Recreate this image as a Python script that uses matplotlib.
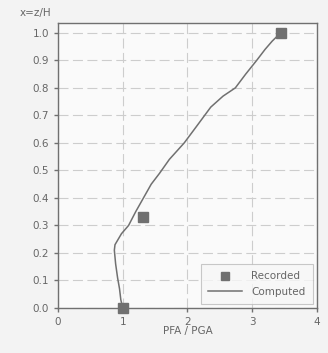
import matplotlib
matplotlib.use('Agg')
import matplotlib.pyplot as plt
import numpy as np

# recorded points (PFA/PGA, z/H)
rec_x = [1.0, 1.31, 3.44]
rec_y = [0.0, 0.33, 1.0]

# computed profile
comp_x = [1.0, 0.97, 0.95, 0.92, 0.89, 0.87, 0.88, 0.98, 1.09, 1.20, 1.32, 1.44, 1.57, 1.72, 1.95, 2.14, 2.36, 2.55, 2.74, 2.90, 3.07, 3.20, 3.31, 3.44]
comp_y = [0.0, 0.03, 0.07, 0.11, 0.16, 0.21, 0.23, 0.27, 0.30, 0.35, 0.40, 0.45, 0.49, 0.54, 0.60, 0.66, 0.73, 0.77, 0.80, 0.85, 0.90, 0.94, 0.97, 1.0]

grey = '#707070'
txt = '#666666'

fig = plt.figure(figsize=(3.28, 3.53), dpi=100, facecolor='#f3f3f3')
ax = fig.add_axes([0.177, 0.1275, 0.789, 0.8075])
ax.set_facecolor('#fafafa')

ax.plot(comp_x, comp_y, color=grey, lw=1.1, label='Computed', zorder=3)
ax.plot(rec_x, rec_y, 's', color=grey, ms=7, label='Recorded', zorder=4, clip_on=False)

ax.set_xlim(0, 4)
ax.set_ylim(0, 1.036)
ax.set_xticks([0, 1, 2, 3, 4])
ax.set_yticks(np.arange(0, 1.01, 0.1))
ax.set_yticklabels(['%.1f' % v for v in np.arange(0, 1.01, 0.1)])
ax.grid(True, ls=(0, (9, 4)), color='#cdcdcd', lw=0.8)
for s in ax.spines.values():
    s.set_color(grey)
    s.set_linewidth(1.0)
ax.tick_params(colors=grey, labelcolor=txt, labelsize=7.5, length=3, width=1)

ax.set_xlabel('PFA / PGA', fontsize=7.5, color=txt, labelpad=-1)
fig.text(0.06, 0.963, 'x=z/H', fontsize=7.5, color=txt, va='center')

h, l = ax.get_legend_handles_labels()
leg = ax.legend([h[1], h[0]], [l[1], l[0]], loc='lower right', fontsize=7.5,
                frameon=True, fancybox=False, edgecolor='#bbbbbb', facecolor='#f7f7f7',
                labelcolor=txt, handlelength=3.2, handletextpad=0.9, borderpad=0.7,
                markerscale=0.8, borderaxespad=0.4)
leg.get_frame().set_linewidth(0.8)

fig.savefig('out.png', dpi=100, facecolor=fig.get_facecolor())
